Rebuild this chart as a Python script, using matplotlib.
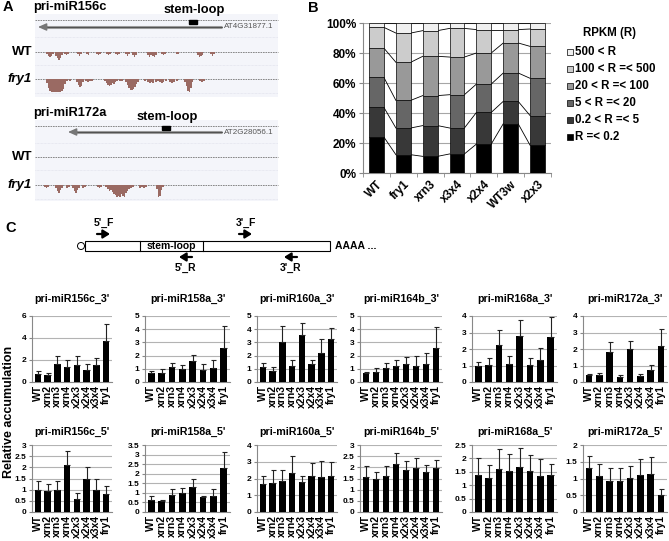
import matplotlib
matplotlib.use('Agg')
import matplotlib.pyplot as plt
from matplotlib.patches import Rectangle, Circle
from matplotlib.ticker import FuncFormatter, FixedLocator
import numpy as np

plt.rcParams['font.family'] = ['Liberation Sans', 'DejaVu Sans']
plt.rcParams['font.weight'] = 'bold'

W, H = 669, 541

# ---------------- panel A: read coverage (x px, depth px) ----------------
wt156 = [(47, 2), (48.5, 4), (50, 5), (51.5, 4), (53, 2), (56, 4), (57.5, 6), (59, 8),
         (60.5, 6), (62, 3), (65, 2), (66.5, 3), (68, 2), (78, 2), (79.5, 4), (81, 2),
         (87, 2), (88.5, 3), (97, 2), (98.5, 3), (100, 2), (107, 2), (108.5, 3), (110, 2),
         (116, 2), (117.5, 3), (119, 2), (126, 2), (127.5, 4), (129, 2), (133, 3), (134.5, 5),
         (136, 3), (148, 3), (149.5, 5), (151, 3), (153, 4), (154.5, 5), (156, 3), (162, 2),
         (163.5, 3), (165, 2), (177, 2), (178.5, 2), (198, 3), (199.5, 5), (201, 4),
         (202.5, 3), (211, 2), (212.5, 4), (214, 2)]
fry156 = [(47, 4), (48.5, 9), (50, 12), (51.5, 13), (53, 13), (54.5, 13), (56, 13), (57.5, 13),
          (59, 13), (60.5, 13), (62, 12), (63.5, 10), (65, 5), (67, 2), (70, 2), (77, 3),
          (78.5, 6), (80, 8), (81.5, 7), (83, 3), (86, 2), (88, 3), (90, 2), (92, 2),
          (105, 2), (106.5, 4), (108, 6), (109.5, 7), (111, 6), (112.5, 4), (114, 5),
          (115.5, 3), (117, 2), (120, 2), (122, 2), (126, 3), (127.5, 6), (129, 9),
          (130.5, 11), (132, 11), (133.5, 10), (135, 8), (136.5, 5), (138, 3), (145, 2),
          (148, 3), (150, 4), (151.5, 3), (153, 4), (156, 3), (158, 2), (160, 3), (162, 4),
          (163.5, 3), (166, 2), (170, 3), (172, 4), (174, 3), (177, 2), (185, 3),
          (186.5, 7), (188, 12), (189.5, 13), (191, 9), (192.5, 3), (200, 2), (202, 3), (204, 2)]
wt172 = []
fry172 = [(45, 2), (46.5, 3), (48, 2), (56, 3), (57.5, 6), (59, 8), (60.5, 5), (62, 3),
          (67, 3), (69, 2), (73, 3), (74.5, 6), (76, 8), (77.5, 5), (79, 3), (83, 3), (85, 2),
          (98, 2), (99.5, 3), (101, 2), (106, 2), (108, 4), (109.5, 6), (111, 5), (112.5, 7),
          (114, 9), (115.5, 10), (117, 12), (118.5, 11), (120, 12), (121.5, 9), (123, 11),
          (124.5, 12), (126, 8), (127.5, 6), (129, 4), (131, 3), (133, 2), (140, 3), (142, 2),
          (144, 3), (146, 2), (157, 4), (158.5, 12), (160, 11), (161.5, 5), (163, 2)]

# ---------------- panel B: % of genes per RPKM class ----------------
b_samples = ['WT', 'fry1', 'xrn3', 'x3x4', 'x2x4', 'WT3w', 'x2x3']
b_classes = ['R =< 0.2', '0.2 < R =< 5', '5 < R =< 20', '20 < R =< 100',
             '100 < R =< 500', '500 < R']
pct_r02 = [24.0, 12.2, 11.1, 12.7, 19.3, 32.9, 18.4]
pct_r5 = [19.8, 17.8, 20.5, 17.3, 21.1, 14.9, 19.8]
pct_r20 = [20.0, 18.4, 20.0, 22.2, 18.9, 18.9, 24.9]
pct_r100 = [19.5, 25.4, 26.2, 25.1, 20.7, 20.0, 21.3]
pct_r500 = [13.8, 19.5, 17.1, 19.1, 15.6, 8.9, 11.6]
pct_rmax = [2.9, 6.7, 5.1, 3.6, 4.4, 4.4, 4.0]
b_colors = ['#000000', '#383838', '#666666', '#999999', '#cccccc', '#f0f0f0']

# ---------------- panel C: qRT-PCR ----------------
c_samples = ['WT', 'xrn2', 'xrn3', 'xrn4', 'x2x3', 'x2x4', 'x3x4', 'fry1']
m156c_3 = [0.70, 0.62, 1.68, 1.37, 1.52, 1.13, 1.52, 3.75]
e156c_3 = [0.28, 0.20, 0.70, 0.60, 0.85, 0.50, 0.70, 1.55]
m158a_3 = [0.68, 0.68, 1.14, 1.00, 1.57, 0.89, 1.07, 2.54]
e158a_3 = [0.12, 0.28, 0.33, 0.30, 0.50, 0.45, 0.63, 1.70]
m160a_3 = [1.12, 0.84, 3.05, 1.22, 3.55, 1.35, 2.20, 3.22]
e160a_3 = [0.30, 0.30, 1.20, 0.45, 0.95, 0.32, 1.08, 0.90]
m164b_3 = [0.68, 0.76, 1.07, 1.19, 1.35, 1.22, 1.40, 2.59]
e164b_3 = [0.06, 0.33, 0.35, 0.51, 0.53, 0.72, 0.80, 1.58]
m168a_3 = [0.97, 1.06, 2.27, 1.12, 2.78, 1.02, 1.36, 2.74]
e168a_3 = [0.25, 0.38, 0.88, 0.46, 0.95, 0.44, 0.71, 1.20]
m172a_3 = [0.41, 0.41, 1.83, 0.30, 1.99, 0.35, 0.71, 2.17]
e172a_3 = [0.06, 0.14, 0.58, 0.13, 0.50, 0.12, 0.33, 1.02]

m156c_5 = [1.00, 0.96, 0.99, 2.10, 0.57, 1.48, 1.00, 0.80]
e156c_5 = [0.37, 0.28, 0.40, 0.65, 0.27, 0.55, 0.47, 0.35]
m158a_5 = [0.65, 0.57, 0.88, 0.97, 1.31, 0.76, 0.85, 2.28]
e158a_5 = [0.17, 0.08, 0.30, 0.28, 0.40, 0.10, 0.33, 0.85]
m160a_5 = [1.70, 1.74, 1.88, 2.34, 1.80, 2.14, 2.06, 2.14]
e160a_5 = [0.44, 0.74, 0.64, 0.98, 0.32, 0.78, 0.98, 0.84]
m164b_5 = [1.55, 1.50, 1.60, 2.17, 1.88, 1.97, 1.78, 1.95]
e164b_5 = [0.50, 0.27, 0.45, 0.45, 0.42, 0.45, 0.32, 0.40]
m168a_5 = [1.38, 1.28, 1.60, 1.53, 1.68, 1.53, 1.36, 1.38]
e168a_5 = [0.65, 0.48, 0.75, 0.62, 0.70, 0.60, 0.60, 0.42]
m172a_5 = [1.31, 1.07, 0.94, 0.94, 1.01, 1.09, 1.14, 0.50]
e172a_5 = [0.36, 0.37, 0.37, 0.37, 0.35, 0.48, 0.50, 0.19]

row3 = [('pri-miR156c_3\'', m156c_3, e156c_3, [0, 2, 4, 6]),
        ('pri-miR158a_3\'', m158a_3, e158a_3, [0, 1, 2, 3, 4, 5]),
        ('pri-miR160a_3\'', m160a_3, e160a_3, [0, 1, 2, 3, 4, 5]),
        ('pri-miR164b_3\'', m164b_3, e164b_3, [0, 1, 2, 3, 4, 5]),
        ('pri-miR168a_3\'', m168a_3, e168a_3, [0, 1, 2, 3, 4]),
        ('pri-miR172a_3\'', m172a_3, e172a_3, [0, 1, 2, 3, 4])]
row5 = [('pri-miR156c_5\'', m156c_5, e156c_5, [0, 0.5, 1, 1.5, 2, 2.5, 3]),
        ('pri-miR158a_5\'', m158a_5, e158a_5, [0, 0.5, 1, 1.5, 2, 2.5, 3, 3.5]),
        ('pri-miR160a_5\'', m160a_5, e160a_5, [0, 1, 2, 3, 4]),
        ('pri-miR164b_5\'', m164b_5, e164b_5, [0, 0.5, 1, 1.5, 2, 2.5, 3]),
        ('pri-miR168a_5\'', m168a_5, e168a_5, [0, 0.5, 1, 1.5, 2, 2.5]),
        ('pri-miR172a_5\'', m172a_5, e172a_5, [0, 0.5, 1, 1.5, 2])]


def add_ax(fig, x0, x1, ytop, ybot):
    return fig.add_axes([x0 / W, 1 - ybot / H, (x1 - x0) / W, (ybot - ytop) / H])


fig = plt.figure(figsize=(W / 100, H / 100), dpi=100)

# overlay in pixel coordinates for schematic parts and free text
ov = fig.add_axes([0, 0, 1, 1])
ov.set_xlim(0, W)
ov.set_ylim(H, 0)
ov.axis('off')

# ---- panel A ----
ov.text(3, 7, 'A', fontsize=10.5, va='center')
cov_col = '#9a6a63'
tracks = [
    dict(title='pri-miR156c', ty=7, sl_x=194, sl_y=10, box=(189, 20), gene=(38, 222, 27),
         gid='AT4G31877.1', top=20, wt=52, fry=79, bg=(14, 97), wtc=wt156, fryc=fry156),
    dict(title='pri-miR172a', ty=113, sl_x=167, sl_y=117, box=(162, 126), gene=(68, 222, 132),
         gid='AT2G28056.1', top=126, wt=157, fry=185, bg=(120, 201), wtc=wt172, fryc=fry172),
]
for t in tracks:
    ov.add_patch(Rectangle((35, t['bg'][0]), 243, t['bg'][1] - t['bg'][0],
                           facecolor='#f4f5fa', edgecolor='none', zorder=0))
    ov.text(33, t['ty'], t['title'], fontsize=9.3, va='center')
    ov.text(t['sl_x'], t['sl_y'], 'stem-loop', fontsize=9.3, va='center', ha='center')
    for yy in (t['top'], t['wt'], t['fry']):
        ov.plot([35, 278], [yy, yy], color='#777777', lw=0.6, ls=(0, (2, 1)), zorder=1)
    for yy in (t['top'] + 17, t['wt'] + 13, t['fry'] + 14):
        ov.plot([35, 278], [yy, yy], color='#dcdde8', lw=0.5, ls=(0, (1, 1)), zorder=1)
    g0, g1, gy = t['gene']
    ov.plot([g0 + 5, g1], [gy, gy], color='#9a9a9a', lw=2.2, solid_capstyle='butt', zorder=2)
    ov.plot([g0 + 5, g1], [gy, gy], color='#444444', lw=0.6, zorder=3)
    ov.annotate('', xy=(g0, gy), xytext=(g0 + 9, gy),
                arrowprops=dict(arrowstyle='-|>,head_length=0.5,head_width=0.22',
                                color='#777777', lw=1.0, shrinkA=0, shrinkB=0), zorder=3)
    ov.add_patch(Rectangle(t['box'], 8, 3.5, facecolor='black', edgecolor='black', zorder=4))
    ov.text(g1 + 2, gy, t['gid'], fontsize=5.8, va='center', ha='left',
            color='#555555', fontweight='normal')
    ov.text(32, t['wt'], 'WT', fontsize=9.5, va='center', ha='right')
    ov.text(32, t['fry'], 'fry1', fontsize=9.5, va='center', ha='right', style='italic')
    for cov, base in ((t['wtc'], t['wt']), (t['fryc'], t['fry'])):
        if cov:
            xs, ds = zip(*cov)
            ov.bar(xs, ds, bottom=base, width=1.6, color=cov_col, edgecolor='none', zorder=2)

# ---- panel B ----
ov.text(308, 8, 'B', fontsize=10.5, va='center')
axb = add_ax(fig, 363, 551, 23, 173)
series = [pct_r02, pct_r5, pct_r20, pct_r100, pct_r500, pct_rmax]
xb = np.arange(len(b_samples))
bw = 0.55
bottom = np.zeros(len(b_samples))
for vals, col, lab in zip(series, b_colors, b_classes):
    vals = np.array(vals)
    axb.bar(xb, vals, bw, bottom=bottom, color=col, edgecolor='black', linewidth=0.5,
            label=lab, zorder=3)
    bottom = bottom + vals
    for i in range(len(xb) - 1):
        axb.plot([xb[i] + bw / 2, xb[i + 1] - bw / 2], [bottom[i], bottom[i + 1]],
                 color='black', lw=0.6, zorder=2)
axb.set_xlim(-0.5, len(b_samples) - 0.5)
axb.set_ylim(0, 100)
axb.set_yticks([0, 20, 40, 60, 80, 100])
axb.yaxis.set_major_formatter(FuncFormatter(lambda v, _: f'{v:.0f}%'))
axb.yaxis.grid(True, color='#a6a6a6', lw=0.8, zorder=0)
axb.set_axisbelow(True)
axb.set_xticks(xb)
axb.set_xticklabels(b_samples, rotation=45, ha='right', rotation_mode='anchor')
axb.xaxis.set_minor_locator(FixedLocator(np.arange(-0.5, len(b_samples), 1)))
axb.tick_params(axis='x', which='major', length=0, labelsize=8.5, pad=4)
axb.tick_params(axis='x', which='minor', length=3, color='#888888')
axb.tick_params(axis='y', length=3, color='#888888', labelsize=8.5, pad=2)
for s in ('top', 'right'):
    axb.spines[s].set_visible(False)
for s in ('left', 'bottom'):
    axb.spines[s].set_color('#888888')
    axb.spines[s].set_linewidth(0.8)

# legend drawn in the overlay
ov.text(583, 33, 'RPKM (R)', fontsize=8.3, va='center')
for k, (lab, col) in enumerate(zip(b_classes[::-1], b_colors[::-1])):
    yy = 52 + k * 17
    ov.add_patch(Rectangle((567, yy - 3), 6, 6, facecolor=col, edgecolor='black', lw=0.5))
    ov.text(575, yy, lab, fontsize=8.3, va='center')

# ---- panel C schematic ----
ov.text(5, 228, 'C', fontsize=10.5, va='center')
ov.add_patch(Circle((81, 246), 3.5, facecolor='white', edgecolor='black', lw=0.7))
ov.add_patch(Rectangle((85, 241), 245, 10, facecolor='white', edgecolor='black', lw=0.8))
ov.plot([140, 140], [241, 251], color='black', lw=0.8)
ov.plot([203, 203], [241, 251], color='black', lw=0.8)
ov.text(171.5, 246, 'stem-loop', fontsize=7.5, ha='center', va='center')
ov.text(335, 246, 'AAAA ...', fontsize=7.5, ha='left', va='center')
primers = [("5'_F", 97, 110, 234, 223), ("3'_F", 239, 252, 234, 223),
           ("5'_R", 192, 179, 257, 268), ("3'_R", 297, 284, 257, 268)]
for lab, xa, xbb, ya, yl in primers:
    ov.annotate('', xy=(xbb, ya), xytext=(xa, ya),
                arrowprops=dict(arrowstyle='-|>,head_length=0.4,head_width=0.25',
                                color='black', lw=1.6, shrinkA=0, shrinkB=0))
    ov.text((xa + xbb) / 2, yl, lab, fontsize=7.5, ha='center', va='center')

# ---- panel C bar charts ----
cols = [(32, 112), (145, 230), (257, 337), (360, 442), (472, 557), (583, 667)]
rows = [((316, 382), 299, row3), ((445, 512), 432, row5)]
xc = np.arange(len(c_samples))
for (ytop, ybot), title_y, panels in rows:
    for (x0, x1), (title, m, e, ticks) in zip(cols, panels):
        ax = add_ax(fig, x0, x1, ytop, ybot)
        ax.bar(xc, m, 0.65, color='black', zorder=3)
        ax.errorbar(xc, m, yerr=[np.zeros(len(e)), e], fmt='none', ecolor='#222222',
                    elinewidth=0.8, capsize=1.8, capthick=0.8, zorder=4)
        ax.set_xlim(-0.6, len(c_samples) - 0.4)
        ax.set_ylim(0, ticks[-1])
        ax.set_yticks(ticks)
        ax.yaxis.set_major_formatter(FuncFormatter(lambda v, _: f'{v:g}'))
        ax.yaxis.grid(True, color='#b3b3b3', lw=0.8, zorder=0)
        ax.set_axisbelow(True)
        ax.set_xticks(xc)
        ax.set_xticklabels(c_samples, rotation=90)
        ax.tick_params(axis='x', length=0, labelsize=7.5, pad=2)
        ax.tick_params(axis='y', length=2.5, color='#888888', labelsize=6, pad=1.5)
        for s in ('top', 'right'):
            ax.spines[s].set_visible(False)
        for s in ('left', 'bottom'):
            ax.spines[s].set_color('#888888')
            ax.spines[s].set_linewidth(0.8)
        ov.text((x0 + x1) / 2, title_y, title, fontsize=7.7, ha='center', va='center')

ov.text(9, 412, 'Relative accumulation', fontsize=9, rotation=90,
        ha='center', va='center')

fig.savefig('out.png', dpi=100, facecolor='white')
